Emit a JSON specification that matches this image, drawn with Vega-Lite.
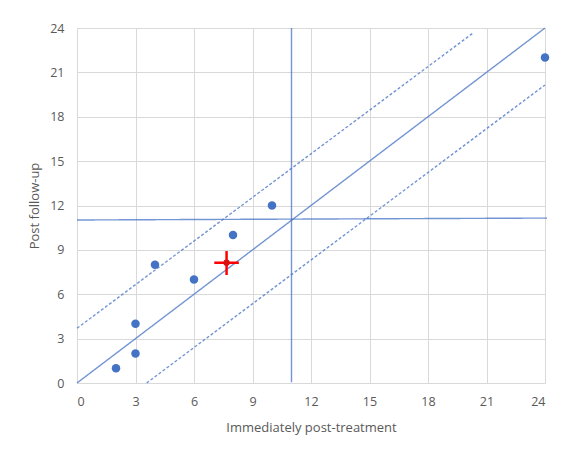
{
  "$schema": "https://vega.github.io/schema/vega-lite/v6.json",
  "width": 468,
  "height": 355,
  "autosize": {"type": "none"},
  "padding": {"left": 77, "top": 28, "right": 21, "bottom": 70},
  "background": "white",
  "config": {
    "view": {"stroke": null},
    "font": "Open Sans",
    "axis": {
      "grid": true,
      "gridColor": "#d9d9d9",
      "gridWidth": 1,
      "domain": false,
      "ticks": false,
      "labelColor": "#595959",
      "labelFontSize": 12.5,
      "labelFont": "Open Sans",
      "titleColor": "#595959",
      "titleFontSize": 13,
      "titleFont": "Open Sans",
      "titleFontWeight": "normal"
    }
  },
  "datasets": {
    "points": [
      {"pre": 2, "post": 1},
      {"pre": 3, "post": 2},
      {"pre": 3, "post": 4},
      {"pre": 4, "post": 8},
      {"pre": 6, "post": 7},
      {"pre": 8, "post": 10},
      {"pre": 10, "post": 12},
      {"pre": 24, "post": 22}
    ],
    "lines": [
      {"line": "identity", "style": "solid", "x": 0, "y": 0},
      {"line": "identity", "style": "solid", "x": 24, "y": 24},
      {"line": "upper", "style": "dashed", "x": 0, "y": 3.7},
      {"line": "upper", "style": "dashed", "x": 20.35, "y": 23.7},
      {"line": "lower", "style": "dashed", "x": 3.57, "y": 0},
      {"line": "lower", "style": "dashed", "x": 24, "y": 20.15},
      {"line": "vertical", "style": "solid", "x": 11, "y": 0.05},
      {"line": "vertical", "style": "solid", "x": 11, "y": 24},
      {"line": "horizontal", "style": "solid", "x": 0, "y": 11.02},
      {"line": "horizontal", "style": "solid", "x": 24.1, "y": 11.15}
    ],
    "mean": [
      {"x": 7.67, "xlo": 7.04, "xhi": 8.3, "y": 8.13, "ylo": 7.3, "yhi": 8.92}
    ]
  },
  "layer": [
    {
      "data": {"name": "lines"},
      "mark": {"type": "line", "strokeWidth": 1.4, "color": "#4472C4", "opacity": 0.75, "clip": false},
      "encoding": {
        "x": {"field": "x", "type": "quantitative", "scale": {"domain": [0, 24], "nice": false},
          "axis": {"values": [0, 3, 6, 9, 12, 15, 18, 21, 24], "title": "Immediately post-treatment", "labelPadding": 12, "titlePadding": 14}},
        "y": {"field": "y", "type": "quantitative", "scale": {"domain": [0, 24], "nice": false},
          "axis": {"values": [0, 3, 6, 9, 12, 15, 18, 21, 24], "title": "Post follow-up", "labelPadding": 13, "titlePadding": 8}},
        "detail": {"field": "line"},
        "strokeDash": {"field": "style", "type": "nominal", "scale": {"domain": ["solid", "dashed"], "range": [[1, 0], [3, 2]]}, "legend": null}
      }
    },
    {
      "data": {"name": "points"},
      "mark": {"type": "point", "filled": true, "size": 72, "color": "#4472C4", "opacity": 1, "clip": false},
      "encoding": {
        "x": {"field": "pre", "type": "quantitative"},
        "y": {"field": "post", "type": "quantitative"}
      }
    },
    {
      "data": {"name": "mean"},
      "mark": {"type": "rule", "color": "#ff0000", "strokeWidth": 2.5},
      "encoding": {
        "x": {"field": "xlo", "type": "quantitative"},
        "x2": {"field": "xhi"},
        "y": {"field": "y", "type": "quantitative"}
      }
    },
    {
      "data": {"name": "mean"},
      "mark": {"type": "rule", "color": "#ff0000", "strokeWidth": 2.5},
      "encoding": {
        "x": {"field": "x", "type": "quantitative"},
        "y": {"field": "ylo", "type": "quantitative"},
        "y2": {"field": "yhi"}
      }
    },
    {
      "data": {"name": "mean"},
      "mark": {"type": "point", "filled": true, "size": 40, "color": "#d81010", "opacity": 1},
      "encoding": {
        "x": {"field": "x", "type": "quantitative"},
        "y": {"field": "y", "type": "quantitative"}
      }
    }
  ]
}
